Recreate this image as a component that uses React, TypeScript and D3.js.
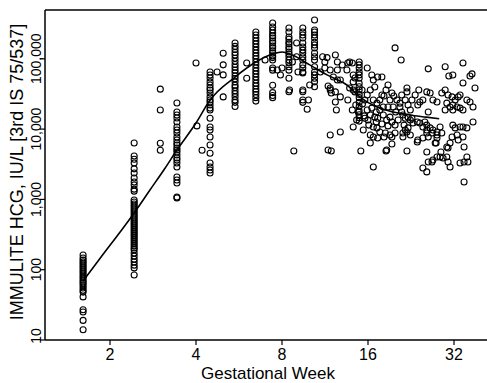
import * as d3 from 'd3';

// Weekly sample columns (gestational week, HCG IU/L)
const wk1_6 = [162, 147, 137, 129, 121, 113, 106, 99, 93, 87, 81, 76, 71, 67, 63, 59, 55, 51, 48, 41, 27, 25, 19, 14];
const wk2_4 = [6340, 4140, 3720, 3300, 2720, 2380, 2020, 1770, 1600, 1400, 1310, 980, 918, 861, 806, 755, 707, 662, 621, 582, 545, 510, 478, 448, 420, 393, 368, 345, 323, 303, 284, 266, 249, 233, 218, 204, 192, 173, 156, 141, 129, 116, 106, 84];
const wk3_4 = [23500, 17500, 15900, 14400, 12600, 10700, 9700, 8800, 7730, 7000, 6340, 5940, 5380, 5040, 4720, 4280, 3880, 3630, 3300, 2890, 2080, 1890, 1710, 1080, 1050];
const wk4_5 = [64900, 58900, 53200, 46900, 42400, 38400, 36000, 32700, 28700, 25900, 24300, 22000, 19900, 18700, 14300, 10700, 9710, 7730, 5940, 4540, 3300, 2890, 2620, 2380];
const wk5_5 = [168000, 150000, 136000, 123000, 113000, 102000, 92000, 83000, 76000, 69000, 63000, 57000, 52000, 47000, 42000, 39000, 35000, 32000, 29000, 26000, 24000, 21000];
const wk6_5 = [240000, 218000, 198000, 179000, 163000, 147000, 133000, 121000, 110000, 100000, 90000, 82000, 74000, 67000, 61000, 55000, 50000, 45000, 41000, 37000, 34000, 31000, 28000, 25000];
const wk7_4 = [323000, 283000, 257000, 233000, 212000, 198000, 179000, 168000, 152000, 143000, 130000, 121000, 110000, 104000, 96000, 74000, 69000, 42000, 33000, 30000, 28000];
const wk8_5 = [274000, 240000, 204000, 190000, 172000, 163000, 147000, 138000, 125000, 117000, 107000, 96000, 88000, 77000, 69000, 53000, 34000];
const wk9_5 = [274000, 240000, 218000, 198000, 168000, 147000, 133000, 121000, 107000, 96000, 82000, 74000, 65000, 63000, 36000, 34000, 26000, 24000];
const wk10_4 = [356000, 257000, 240000, 218000, 198000, 172000, 157000, 143000, 121000, 107000, 96000, 77000, 65000, 59000, 53000, 47000, 40000];
const wk14_9 = [90000, 82000, 74000, 65000, 59000, 53000, 45000, 40000, 36000, 31000, 28000, 24000, 21000, 18000, 16000, 14500, 13000];

const columnWeeks = [1.61, 2.43, 3.43, 4.48, 5.48, 6.48, 7.42, 8.46, 9.46, 10.4, 14.9];
const columnValues = [wk1_6, wk2_4, wk3_4, wk4_5, wk5_5, wk6_5, wk7_4, wk8_5, wk9_5, wk10_4, wk14_9];

// Scattered single observations [week, HCG]
const scattered: [number, number][] = [
  [3.0, 37000], [3.0, 18700], [3.0, 6300], [3.0, 5000], [4.0, 87000], [4.03, 11100], [4.2, 5000],
  [4.74, 65000], [4.98, 120000], [4.98, 82000], [4.98, 59000], [4.98, 28700], [6.02, 87000], [6.02, 53000],
  [6.98, 96000], [7.7, 69300], [7.9, 58900], [8.0, 74000], [8.7, 90000], [9.0, 168000], [9.0, 107000],
  [9.1, 64900], [8.5, 36000], [8.8, 4870], [9.8, 19200], [10.0, 42400], [9.9, 25900],
  [10.9, 64900], [11.3, 90000], [11.5, 104000], [11.8, 38400], [11.9, 32700], [12.3, 113000], [12.5, 90000],
  [12.5, 69300], [13.0, 81700], [12.8, 49900], [11.9, 4870], [11.8, 8240], [12.8, 9100], [12.3, 24300],
  [12.4, 18700], [11.6, 41000], [11.1, 107000], [11.3, 74000], [11.6, 5040], [11.8, 69300], [12.1, 55000],
  [12.5, 49900], [11.8, 36000], [12.3, 33800], [12.8, 28700], [13.6, 87000], [14.1, 87000], [14.2, 58900],
  [14.4, 53200], [13.5, 69300], [13.8, 90000], [14.2, 36000], [14.2, 46900], [13.6, 25900], [14.2, 10700],
  [15.1, 4870], [15.9, 74000], [16.5, 58900], [16.7, 49900], [16.9, 39700], [17.3, 55000], [17.9, 55000],
  [18.8, 42400], [19.4, 32700], [17.9, 30600], [16.3, 36000], [15.9, 30600], [16.7, 25900], [17.2, 23400],
  [17.6, 25900], [18.1, 20600], [18.8, 20600], [19.6, 20600], [20.2, 25900], [20.7, 23400], [15.9, 18700],
  [16.3, 15900], [16.9, 14800], [17.3, 14300], [18.1, 15900], [18.6, 13500], [19.1, 14800], [15.4, 9710],
  [16.3, 8240], [16.7, 10700], [17.2, 10400], [17.6, 9100], [18.4, 8800], [19.1, 8240], [19.9, 8800],
  [16.7, 2890], [16.3, 6340], [16.7, 7730], [18.6, 5040], [19.4, 6130], [18.2, 7730], [19.9, 143000],
  [20.9, 96100], [26.0, 72000], [29.8, 77000], [34.4, 87000], [30.7, 57000], [31.7, 58900], [36.4, 57000],
  [37.0, 61000], [34.4, 45300], [37.9, 38400], [21.9, 38400], [21.9, 33800], [24.1, 36000], [25.7, 33800],
  [26.4, 32700], [24.3, 24300], [24.9, 25900], [27.0, 25900], [27.9, 24300], [29.0, 32700], [29.8, 36000],
  [30.5, 30600], [31.5, 28700], [32.3, 25900], [33.1, 28700], [33.6, 30600], [35.5, 25900], [36.4, 24300],
  [37.3, 20600], [20.7, 20600], [21.0, 17500], [21.2, 15900], [21.6, 14300], [22.1, 14800], [22.8, 14300],
  [23.0, 12200], [23.8, 12600], [24.3, 12200], [24.9, 10700], [25.7, 11400], [26.4, 10400], [27.0, 9710],
  [27.9, 9100], [28.6, 10700], [29.8, 18700], [30.2, 23400], [31.0, 20600], [31.7, 22000], [32.8, 20600],
  [33.6, 19900], [34.4, 18700], [31.7, 11400], [32.3, 10400], [33.6, 10700], [34.4, 10700], [35.5, 10400],
  [37.3, 12600], [21.2, 8800], [21.9, 9100], [23.8, 6560], [23.9, 7000], [25.7, 8800], [26.0, 7730],
  [26.8, 8800], [27.7, 6340], [27.9, 8240], [29.0, 8800], [30.2, 5560], [31.0, 6340], [31.5, 7730],
  [32.8, 8240], [34.4, 7730], [34.7, 5560], [21.9, 4870], [18.5, 4870], [25.7, 4720], [26.0, 3400],
  [24.9, 2800], [25.7, 2460], [27.0, 3630], [28.6, 4010], [29.3, 3880], [30.2, 4010], [30.5, 3400],
  [31.0, 2890], [33.6, 3300], [34.7, 3400], [35.5, 4010], [35.8, 3400], [34.7, 1770], [28.8, 4720],
  [17.3, 7480], [19.4, 7730], [21.2, 7730], [23.9, 22000], [26.0, 17500], [31.7, 18700], [25.3, 12600],
  [25.7, 9710], [24.9, 7480], [27.9, 7480], [27.5, 6340], [33.1, 7000], [30.5, 5380], [27.9, 4010],
  [26.8, 3400], [13.8, 38400], [14.4, 33800], [15.25, 36000], [15.6, 25900], [15.3, 22700], [14.5, 22000],
  [14.1, 18700], [14.8, 17500], [15.5, 15400], [16.0, 13500], [16.5, 19900], [17.1, 17500], [17.6, 18700],
  [18.2, 29600], [18.5, 36000], [19.1, 25900], [19.7, 29600], [20.0, 17500], [20.4, 13500], [21.0, 30600],
  [21.6, 25900], [22.1, 22000], [22.5, 18700], [21.4, 11400], [22.1, 10400], [19.9, 11400], [19.4, 12600],
  [18.8, 11100], [17.9, 11800], [17.1, 12600], [16.1, 11400], [15.6, 14300], [14.6, 13500], [22.5, 13500],
  [22.5, 8240], [21.6, 9710], [22.8, 25900], [23.4, 30600],
];

// Fitted curve
const fitWeeks = [1.61, 1.85, 2.17, 2.43, 2.76, 3.12, 3.43, 4.0, 4.48, 5.48, 6.48, 7.42, 8.0, 8.7, 10.0, 11.5, 13.5, 15.0, 17.2, 19.6, 22.4, 25.6, 28.4];
const fitHcg = [69, 147, 344, 641, 1360, 2800, 5040, 12200, 25900, 55000, 90000, 117000, 125000, 113000, 82000, 59000, 42400, 28600, 20600, 17500, 15900, 14800, 14000];

const xTicks = [2, 4, 8, 16, 32];
const yTicks = [10, 100, 1000, 10000, 100000];

const W = 487;
const H = 383;
const left = 45;
const top = 10;
const bottom = 340;
const right = 490;

export default function App() {
  const x = d3.scaleLog().base(2).domain([2, 32]).range([110, 454]);
  const y = d3.scaleLog().domain([10, 100000]).range([bottom, 58.8]);

  const points: [number, number][] = [];
  columnWeeks.forEach((w, i) => columnValues[i].forEach((v) => points.push([w, v])));
  scattered.forEach((p) => points.push(p));

  const line = d3
    .line<number>()
    .x((_, i) => x(fitWeeks[i]))
    .y((_, i) => y(fitHcg[i]))
    .curve(d3.curveMonotoneX);

  const font = '"Liberation Sans", Arial, sans-serif';
  const fmt = d3.format(',');

  return (
    <svg width={W} height={H} style={{ position: 'absolute', left: 0, top: 0, background: '#fff' }}>
      <rect x={0} y={0} width={W} height={H} fill="#fff" />
      {points.map((p, i) => (
        <circle key={i} cx={x(p[0])} cy={y(p[1])} r={3} fill="none" stroke="#000" strokeWidth={1.1} />
      ))}
      <path d={line(fitWeeks) || ''} fill="none" stroke="#000" strokeWidth={1.6} />

      {/* frame */}
      <line x1={left} x2={right} y1={top} y2={top} stroke="#000" strokeWidth={1.5} />
      <line x1={left} x2={left} y1={top} y2={bottom} stroke="#000" strokeWidth={1.5} />
      <line x1={left} x2={right} y1={bottom} y2={bottom} stroke="#000" strokeWidth={1.5} />

      {xTicks.map((t) => (
        <g key={t}>
          <line x1={x(t)} x2={x(t)} y1={bottom} y2={bottom + 5} stroke="#000" strokeWidth={1.2} />
          <text x={x(t)} y={360} textAnchor="middle" fontFamily={font} fontSize={16}>
            {t}
          </text>
        </g>
      ))}
      {yTicks.map((t) => (
        <g key={t}>
          <line x1={left - 5} x2={left} y1={y(t)} y2={y(t)} stroke="#000" strokeWidth={1.2} />
          <text
            transform={`translate(41,${t === 10 ? y(t) - 4 : y(t)}) rotate(-90)`}
            textAnchor="middle"
            fontFamily={font}
            fontSize={14}
          >
            {fmt(t)}
          </text>
        </g>
      ))}

      <text x={268} y={379} textAnchor="middle" fontFamily={font} fontSize={17}>
        Gestational Week
      </text>
      <text transform="translate(23,172) rotate(-90)" textAnchor="middle" fontFamily={font} fontSize={18}>
        IMMULITE HCG, IU/L [3rd IS 75/537]
      </text>
    </svg>
  );
}
